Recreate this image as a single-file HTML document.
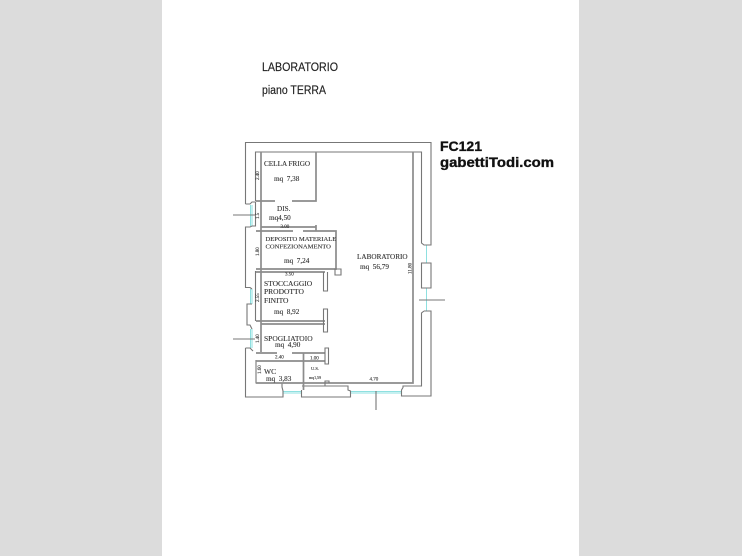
<!DOCTYPE html>
<html>
<head>
<meta charset="utf-8">
<style>
html,body{margin:0;padding:0;background:#dcdcdc}
#p{position:relative;width:742px;height:556px;overflow:hidden;background:#dcdcdc}
#w{position:absolute;left:162px;top:0;width:417px;height:556px;background:#fff}
svg{position:absolute;left:0;top:0}
.t{font-family:"Liberation Serif",serif;fill:#333;stroke:#333;stroke-width:.12}
.h{font-family:"Liberation Sans",sans-serif;font-size:11.5px;fill:#222;stroke:#222;stroke-width:.15}
.b{font-family:"Liberation Sans",sans-serif;font-weight:bold;font-size:13.5px;fill:#111;stroke:#111;stroke-width:.35}
</style>
</head>
<body>
<div id="p"><div id="w"></div>
<svg width="742" height="556" viewBox="0 0 742 556">
<text class="h" x="262" y="71" textLength="76" lengthAdjust="spacingAndGlyphs">LABORATORIO</text>
<text class="h" x="262" y="94" textLength="64" lengthAdjust="spacingAndGlyphs">piano TERRA</text>
<text class="b" x="440" y="151" textLength="42" lengthAdjust="spacingAndGlyphs">FC121</text>
<text class="b" x="440" y="167" textLength="114" lengthAdjust="spacingAndGlyphs">gabettiTodi.com</text>
<g fill="none" stroke="#8ee0e0" stroke-width="1">
<path d="M250.5 205V226M252 205V226M250.5 289V304M252 289V304M250.5 329V348M252 329V348"/>
<path d="M283 391.5H302M283 393H302M350 391.5H402M350 393H402"/>
<path d="M426.5 245V263M426.5 288V311"/>
</g>
<g fill="none" stroke="#777" stroke-width="1.100">
<path d="M245.500 204V142.500H431V245H424L421.500 243V152H255.500V201"/>
<path d="M421.500 263H431V288H421.500ZM424 311H431V396H401.500V390L403 387.500V386H421.500V313L424 311"/>
<path d="M245.500 204H250L252 202H255.500V226H252L250 227H245.500V287.500H250L252 289"/>
<path d="M252 304H247V325H250L252 329M255.500 271V321"/>
<path d="M245.500 348H250L253 351M245.500 348V397H283V391L282 387V383H256V360"/>
<path d="M301.500 390V397H350.500V391L348 390V386H302"/>
<path d="M233 215H255M233 339H255M419 300H445M376 391V410"/>
</g>
<g fill="none" stroke="#8c8c8c" stroke-width="1.700">
<path d="M261 152V352"/>
<path d="M413 152V383H256"/>
<path d="M256 201H275M292 201H316V152"/>
<path d="M316 225V231M261 227H316"/>
<path d="M256 231H293M303 231H336V269H256"/>
<path d="M256 272H325"/>
<path d="M256 321H325M261 324H325"/>
<path d="M256 353H277M292 353H325"/>
<path d="M256 361H303"/>
<path d="M303.500 353V390"/>
<path d="M303 361H325"/>
</g>
<g fill="none" stroke="#777" stroke-width="1.100">
<path d="M335 269H341V275H335Z"/>
<path d="M323.500 272V291H327.500V272"/>
<path d="M323.500 309V332H327.500V309Z"/>
<path d="M325 348H328.500V364H325Z"/>
<path d="M325 386V381H329V383"/>
</g>
<g class="t" font-size="7.200">
<text class="t" x="264" y="166">CELLA FRIGO</text>
<text class="t" x="274" y="181">mq&#160;&#160;7,38</text>
<text class="t" x="277" y="211">DIS.</text>
<text class="t" x="269" y="220">mq4,50</text>
<text class="t" x="265.500" y="241" font-size="6.600">DEPOSITO MATERIALE</text>
<text class="t" x="265.500" y="248.500" font-size="6.600">CONFEZIONAMENTO</text>
<text class="t" x="284" y="263">mq&#160;&#160;7,24</text>
<text class="t" x="264" y="286" font-size="7.500">STOCCAGGIO</text>
<text class="t" x="264" y="294" font-size="7.500">PRODOTTO</text>
<text class="t" x="264" y="303" font-size="7.500">FINITO</text>
<text class="t" x="274" y="314">mq&#160;&#160;8,92</text>
<text class="t" x="264" y="341" font-size="7.500">SPOGLIATOIO</text>
<text class="t" x="275" y="347">mq&#160;&#160;4,90</text>
<text class="t" x="264" y="374" font-size="7.500">WC</text>
<text class="t" x="266" y="381">mq&#160;&#160;3,83</text>
<text class="t" x="357" y="259">LABORATORIO</text>
<text class="t" x="360" y="269">mq&#160;&#160;56,79</text>
<text class="t" x="280.500" y="228" font-size="5">3.00</text>
<text class="t" x="285" y="275.500" font-size="5">3.50</text>
<text class="t" x="275" y="358.500" font-size="5">2.40</text>
<text class="t" x="310" y="359.500" font-size="5">1.00</text>
<text class="t" x="369.500" y="380.500" font-size="5">4.70</text>
<text class="t" x="311" y="370" font-size="4.500">U.S.</text>
<text class="t" x="309" y="379" font-size="4">mq1,59</text>
<text class="t" font-size="5" transform="translate(259,180) rotate(-90)">2.40</text>
<text class="t" font-size="5" transform="translate(259,219) rotate(-90)">1.5</text>
<text class="t" font-size="5" transform="translate(259,256) rotate(-90)">1.80</text>
<text class="t" font-size="5" transform="translate(259,302) rotate(-90)">2.55</text>
<text class="t" font-size="5" transform="translate(259,343) rotate(-90)">1.40</text>
<text class="t" font-size="5" transform="translate(261,374) rotate(-90)">1.60</text>
<text class="t" font-size="5" transform="translate(411.500,274) rotate(-90)">11.80</text>
</g>
</svg>
</div>
</body>
</html>
